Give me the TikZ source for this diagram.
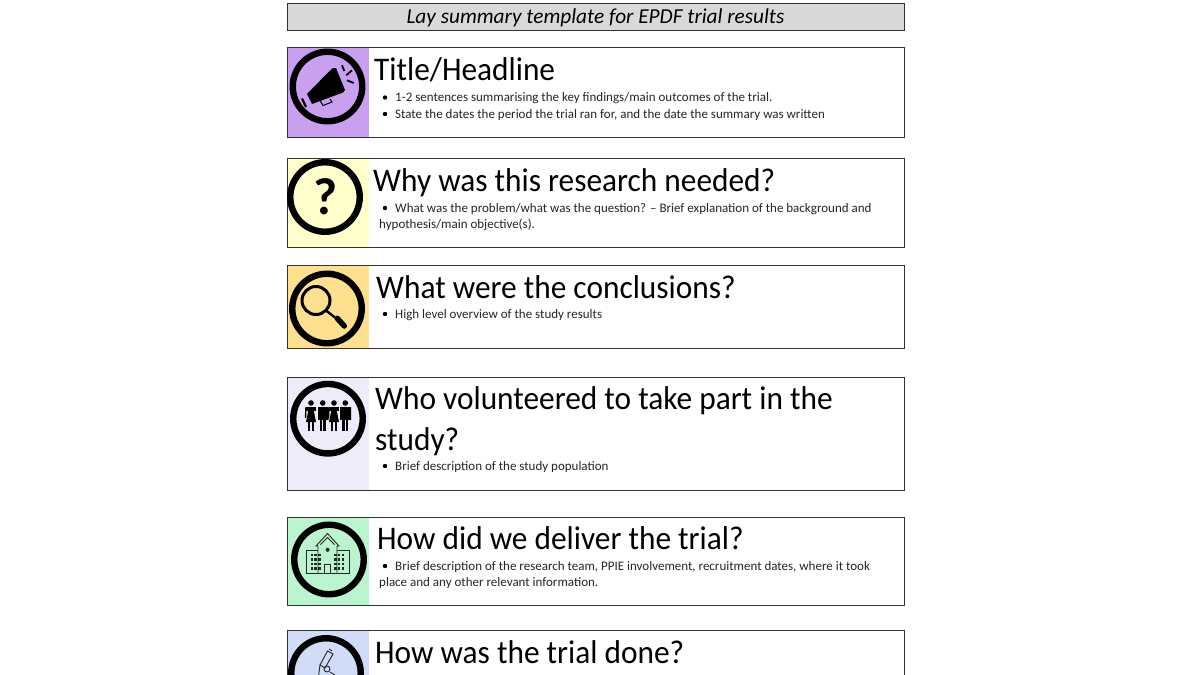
\documentclass[tikz,border=0pt]{standalone}
\usepackage{fontspec}
\setmainfont{Carlito}
\newfontfamily\headfont[FakeStretch=0.95]{Carlito}
\usepackage{tikz}
\usetikzlibrary{positioning}
\tikzset{
  rowbox/.style={draw=black!80, line width=0.9pt, anchor=north west, inner sep=0pt},
  iconpanel/.style={anchor=north west, inner sep=0pt, minimum width=81.5},
  ring/.style={draw=black, line width=6.4pt, circle, inner sep=0pt, minimum size=69.5},
  headline/.style={anchor=base west, inner sep=0pt, font=\headfont\fontsize{33}{33}\selectfont},
  bodytext/.style={anchor=base west, inner sep=0pt, font=\fontsize{13}{14}\selectfont, text=black!85},
  bulletdot/.style={circle, fill=black, inner sep=0pt, minimum size=4.4},
  iconline/.style={draw=black!85, line width=0.9pt},
}
\definecolor{panelpurple}{HTML}{C9A0F0}
\definecolor{panelyellow}{HTML}{FFFFCC}
\definecolor{panelorange}{HTML}{FFE08F}
\definecolor{panellilac}{HTML}{EEECF8}
\definecolor{panelgreen}{HTML}{BBF5CF}
\definecolor{panelblue}{HTML}{D0DCF8}
\definecolor{titlegrey}{HTML}{D9D9D9}
\begin{document}
\begin{tikzpicture}[x=1pt,y=-1pt]
  \useasboundingbox (0,0) rectangle (1200,675);
  \clip (0,0) rectangle (1200,675);
  \fill[white] (0,0) rectangle (1200,675);

  % header
  \node[rowbox, fill=titlegrey, minimum width=617, minimum height=27] (header) at (287,3) {};
  \node[font=\fontsize{21.3}{20}\selectfont\itshape, inner sep=0pt] (headertext) at (595.5,17.5) {Lay summary template for EPDF trial results};

  % panels
  \node[iconpanel, fill=panelpurple, minimum height=90] (panel1) at (287,47) {};
  \node[iconpanel, fill=panelyellow, minimum height=89] (panel2) at (287,158) {};
  \node[iconpanel, fill=panelorange, minimum height=83] (panel3) at (287,265) {};
  \node[iconpanel, fill=panellilac, minimum height=113] (panel4) at (287,377) {};
  \node[iconpanel, fill=panelgreen, minimum height=88] (panel5) at (287,517) {};
  \node[iconpanel, fill=panelblue, minimum height=60] (panel6) at (287,630) {};

  % boxes
  \node[rowbox, minimum width=617, minimum height=90] (box1) at (287,47) {};
  \node[rowbox, minimum width=617, minimum height=89] (box2) at (287,158) {};
  \node[rowbox, minimum width=617, minimum height=83] (box3) at (287,265) {};
  \node[rowbox, minimum width=617, minimum height=113] (box4) at (287,377) {};
  \node[rowbox, minimum width=617, minimum height=88] (box5) at (287,517) {};
  \node[rowbox, minimum width=617, minimum height=60] (box6) at (287,630) {};

  % rings
  \node[ring] (ring1) at (327.5,86.5) {};
  \node[ring] (ring2) at (325,197) {};
  \node[ring] (ring3) at (327,308.5) {};
  \node[ring] (ring4) at (328,418.7) {};
  \node[ring] (ring5) at (329,559.5) {};
  \node[ring] (ring6) at (326,673) {};

  % headlines
  \node[headline] (title1) at (374,80) {Title/Headline};
  \node[headline] (title2) at (373,191) {Why was this research needed?};
  \node[headline] (title3) at (376,298) {What were the conclusions?};
  \node[headline] (title4) at (375,409) {Who volunteered to take part in the};
  \node[headline] (title4b) at (375,450) {study?};
  \node[headline] (title5) at (377,549) {How did we deliver the trial?};
  \node[headline] (title6) at (375,663) {How was the trial done?};

  % body text
  \node[bulletdot] (dot1) at (385,97.5) {};
  \node[bodytext] (text1) at (395,101) {1-2 sentences summarising the key findings/main outcomes of the trial.};
  \node[bulletdot] (dot1b) at (385,114) {};
  \node[bodytext] (text1b) at (395,118) {State the dates the period the trial ran for, and the date the summary was written};
  \node[bulletdot] (dot2) at (385,208) {};
  \node[bodytext] (text2) at (395,212) {What was the problem/what was the question? -- Brief explanation of the background and};
  \node[bodytext] (text2b) at (379,228) {hypothesis/main objective(s).};
  \node[bulletdot] (dot3) at (385,314) {};
  \node[bodytext] (text3) at (395,318) {High level overview of the study results};
  \node[bulletdot] (dot4) at (385,466) {};
  \node[bodytext] (text4) at (395,470) {Brief description of the study population};
  \node[bulletdot] (dot5) at (385,566) {};
  \node[bodytext] (text5) at (395,570) {Brief description of the research team, PPIE involvement, recruitment dates, where it took};
  \node[bodytext] (text5b) at (379,586) {place and any other relevant information.};

  % megaphone
  \fill (307,94) -- (332,68.5) -- (336,68) -- (345,90) -- (343,92.5) -- (312,104) -- cycle;
  \draw[line width=2.2pt] (302,98.5) -- (306,107);
  \draw[line width=1pt] (320,100.5) -- (323,105.5) -- (332,102) -- (330,99);
  \draw[line width=1.8pt] (342,65.3) -- (344.3,71);
  \draw[line width=1.8pt] (346.3,75.3) -- (352,70.3);
  \draw[line width=1.8pt] (347,80.3) -- (353.7,83);

  % question mark
  \node[font=\fontsize{52}{52}\selectfont\bfseries, inner sep=0pt] (qmark) at (325.5,197) {?};

  % magnifier
  \draw[line width=3pt] (316,300.5) circle (14);
  \draw[line width=2.4pt] (326,310.5) -- (337,319);
  \draw[line width=5.5pt, line cap=round] (337.3,318.3) -- (344.3,326);

  % people
  \foreach \px in {311,334} {
    \fill (\px,403) circle (2.8);
    \fill (\px-5,406.5) rectangle (\px+5,411);
    \fill (\px-2.6,410) -- (\px+2.6,410) -- (\px+5,422) -- (\px-5,422) -- cycle;
    \fill (\px-2.6,421) rectangle (\px-0.9,431);
    \fill (\px+0.9,421) rectangle (\px+2.6,431);
    \draw[line width=1.4pt] (\px-5,407) -- (\px-5.5,418);
  }
  \foreach \px in {322.7,345.3} {
    \fill (\px,403) circle (2.8);
    \fill (\px-5,406.5) rectangle (\px+5,420);
    \fill (\px-3,419) rectangle (\px-0.5,431);
    \fill (\px+0.5,419) rectangle (\px+3,431);
    \draw[line width=1.4pt] (\px+5,407) -- (\px+5.2,420);
  }

  % building
  \draw[iconline] (306.7,550) rectangle (349.3,573.5);
  \draw[iconline, fill=panelgreen] (318,573.5) -- (318,546) -- (316,546) -- (327.5,533.5) -- (339,546) -- (337,546) -- (337,573.5) -- cycle;
  \draw[iconline] (320.5,544.5) -- (327.5,537.5) -- (334.5,544.5);
  \draw[iconline] (324.7,573.5) -- (324.7,564.7) -- (330.3,564.7) -- (330.3,573.5);
  \fill[black!85] (327.6,549.8) circle (2);
  \foreach \wx in {310.5,314.3,318.1,334,337.8,341.6} \foreach \wy in {553.5,558,562.5,567}
    \fill[black!85] (\wx,\wy) rectangle +(2.6,2.6);

  % microscope
  \draw[iconline] (327.5,651) -- (333,654) -- (325,668) -- (320,665) -- cycle;
  \draw[iconline] (329,649) -- (332,651);
  \draw[iconline] (327,669) circle (3);
  \draw[iconline] (320,665) -- (318.7,675);
  \draw[iconline] (330,672) -- (335,675);
\end{tikzpicture}
\end{document}
